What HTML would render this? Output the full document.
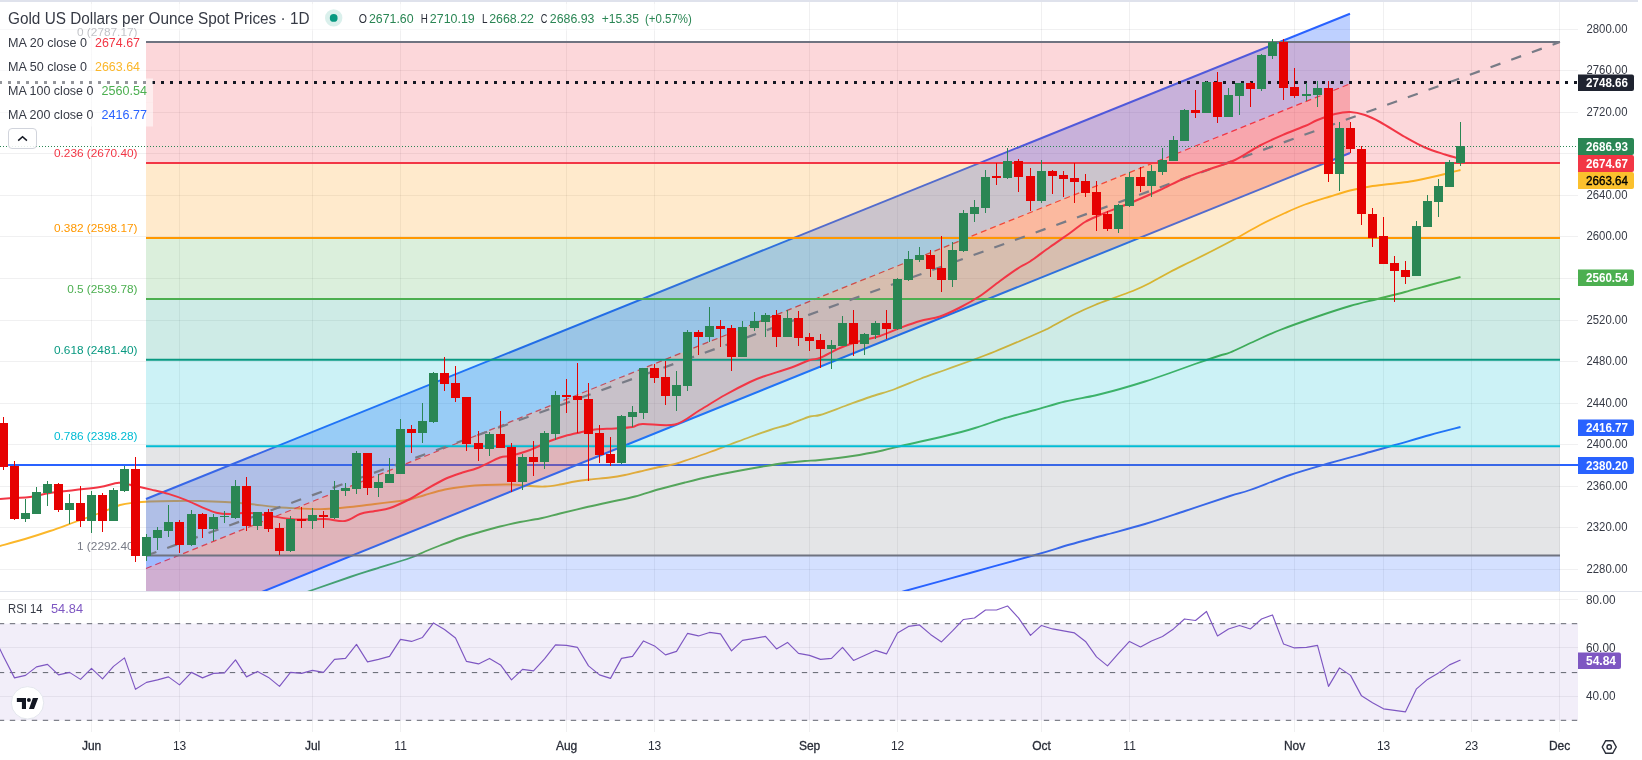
<!DOCTYPE html>
<html><head><meta charset="utf-8"><title>Gold Chart</title>
<style>html,body{margin:0;padding:0;background:#fff;}body{width:1642px;height:760px;overflow:hidden;position:relative;font-family:"Liberation Sans",sans-serif;}</style></head>
<body>
<svg width="1642" height="760" viewBox="0 0 1642 760" style="position:absolute;left:0;top:0;will-change:transform;opacity:0.999">
<defs>
<clipPath id="cm"><rect x="0" y="0" width="1578" height="591"/></clipPath>
<clipPath id="cr"><rect x="0" y="592" width="1578" height="140"/></clipPath>
</defs>
<rect width="1642" height="760" fill="#fff"/>
<rect x="0" y="0" width="1638" height="2" fill="#dfe2ec" shape-rendering="crispEdges"/>
<g fill="rgba(42,46,57,0.07)" shape-rendering="crispEdges"><rect x="0" y="29" width="1578" height="1"/><rect x="0" y="70" width="1578" height="1"/><rect x="0" y="112" width="1578" height="1"/><rect x="0" y="153" width="1578" height="1"/><rect x="0" y="195" width="1578" height="1"/><rect x="0" y="236" width="1578" height="1"/><rect x="0" y="278" width="1578" height="1"/><rect x="0" y="320" width="1578" height="1"/><rect x="0" y="361" width="1578" height="1"/><rect x="0" y="403" width="1578" height="1"/><rect x="0" y="444" width="1578" height="1"/><rect x="0" y="486" width="1578" height="1"/><rect x="0" y="527" width="1578" height="1"/><rect x="0" y="569" width="1578" height="1"/><rect x="0" y="599" width="1578" height="1"/><rect x="0" y="647" width="1578" height="1"/><rect x="0" y="696" width="1578" height="1"/><rect x="91" y="2" width="1" height="730"/><rect x="179" y="2" width="1" height="730"/><rect x="312" y="2" width="1" height="730"/><rect x="400" y="2" width="1" height="730"/><rect x="566" y="2" width="1" height="730"/><rect x="654" y="2" width="1" height="730"/><rect x="809" y="2" width="1" height="730"/><rect x="897" y="2" width="1" height="730"/><rect x="1041" y="2" width="1" height="730"/><rect x="1129" y="2" width="1" height="730"/><rect x="1294" y="2" width="1" height="730"/><rect x="1383" y="2" width="1" height="730"/><rect x="1471" y="2" width="1" height="730"/><rect x="1559" y="2" width="1" height="730"/></g>
<rect x="0" y="591" width="1642" height="1" fill="#e0e3eb" shape-rendering="crispEdges"/>
<g clip-path="url(#cm)">
<rect x="0" y="464" width="1578" height="2" fill="#2962ff"/>
<path d="M0.00,546.00 C4.17,544.83 16.67,541.50 25.00,539.00 C33.33,536.50 41.67,533.83 50.00,531.00 C58.33,528.17 66.67,525.00 75.00,522.00 C83.33,519.00 92.50,515.83 100.00,513.00 C107.50,510.17 114.17,506.75 120.00,505.00 C125.83,503.25 130.00,503.08 135.00,502.50 C140.00,501.92 143.33,501.75 150.00,501.50 C156.67,501.25 166.67,501.08 175.00,501.00 C183.33,500.92 191.67,500.83 200.00,501.00 C208.33,501.17 216.67,501.50 225.00,502.00 C233.33,502.50 241.67,503.17 250.00,504.00 C258.33,504.83 266.67,506.25 275.00,507.00 C283.33,507.75 291.67,508.17 300.00,508.50 C308.33,508.83 316.67,509.25 325.00,509.00 C333.33,508.75 341.67,507.83 350.00,507.00 C358.33,506.17 366.67,505.00 375.00,504.00 C383.33,503.00 394.17,501.75 400.00,501.00 C405.83,500.25 405.83,500.50 410.00,499.50 C414.17,498.50 419.17,496.67 425.00,495.00 C430.83,493.33 438.33,490.92 445.00,489.50 C451.67,488.08 458.33,487.25 465.00,486.50 C471.67,485.75 477.50,485.33 485.00,485.00 C492.50,484.67 502.50,484.33 510.00,484.50 C517.50,484.67 524.17,485.67 530.00,486.00 C535.83,486.33 540.00,486.75 545.00,486.50 C550.00,486.25 555.00,485.33 560.00,484.50 C565.00,483.67 570.00,482.33 575.00,481.50 C580.00,480.67 584.17,480.17 590.00,479.50 C595.83,478.83 604.17,478.25 610.00,477.50 C615.83,476.75 620.00,476.00 625.00,475.00 C630.00,474.00 635.00,472.67 640.00,471.50 C645.00,470.33 649.17,469.25 655.00,468.00 C660.83,466.75 669.17,465.50 675.00,464.00 C680.83,462.50 684.17,461.00 690.00,459.00 C695.83,457.00 703.33,454.42 710.00,452.00 C716.67,449.58 723.33,447.00 730.00,444.50 C736.67,442.00 743.33,439.42 750.00,437.00 C756.67,434.58 763.33,432.17 770.00,430.00 C776.67,427.83 783.33,426.25 790.00,424.00 C796.67,421.75 805.00,418.00 810.00,416.50 C815.00,415.00 814.17,416.75 820.00,415.00 C825.83,413.25 836.67,409.00 845.00,406.00 C853.33,403.00 861.67,399.83 870.00,397.00 C878.33,394.17 886.67,392.00 895.00,389.00 C903.33,386.00 911.67,382.17 920.00,379.00 C928.33,375.83 936.67,373.00 945.00,370.00 C953.33,367.00 961.67,364.08 970.00,361.00 C978.33,357.92 986.67,354.83 995.00,351.50 C1003.33,348.17 1011.67,344.58 1020.00,341.00 C1028.33,337.42 1040.00,332.25 1045.00,330.00 C1050.00,327.75 1045.00,330.17 1050.00,327.50 C1055.00,324.83 1067.50,317.75 1075.00,314.00 C1082.50,310.25 1088.33,307.75 1095.00,305.00 C1101.67,302.25 1108.33,300.00 1115.00,297.50 C1121.67,295.00 1129.17,292.42 1135.00,290.00 C1140.83,287.58 1144.17,286.00 1150.00,283.00 C1155.83,280.00 1163.33,275.50 1170.00,272.00 C1176.67,268.50 1183.33,265.33 1190.00,262.00 C1196.67,258.67 1202.50,255.83 1210.00,252.00 C1217.50,248.17 1226.67,243.50 1235.00,239.00 C1243.33,234.50 1251.67,229.33 1260.00,225.00 C1268.33,220.67 1277.50,216.42 1285.00,213.00 C1292.50,209.58 1297.50,207.25 1305.00,204.50 C1312.50,201.75 1322.50,198.83 1330.00,196.50 C1337.50,194.17 1343.33,192.17 1350.00,190.50 C1356.67,188.83 1363.33,187.58 1370.00,186.50 C1376.67,185.42 1383.33,184.83 1390.00,184.00 C1396.67,183.17 1403.33,182.58 1410.00,181.50 C1416.67,180.42 1424.17,178.75 1430.00,177.50 C1435.83,176.25 1439.92,175.25 1445.00,174.00 C1450.08,172.75 1457.92,170.67 1460.50,170.00" fill="none" stroke="#fbb72a" stroke-width="1.85" stroke-linejoin="round" stroke-linecap="butt"/>
<path d="M305.00,593.00 C306.25,592.50 305.00,592.67 312.50,590.00 C320.00,587.33 339.58,580.50 350.00,577.00 C360.42,573.50 365.00,572.17 375.00,569.00 C385.00,565.83 401.67,560.92 410.00,558.00 C418.33,555.08 420.00,553.58 425.00,551.50 C430.00,549.42 434.17,547.75 440.00,545.50 C445.83,543.25 453.33,540.25 460.00,538.00 C466.67,535.75 473.33,533.92 480.00,532.00 C486.67,530.08 493.33,528.17 500.00,526.50 C506.67,524.83 513.33,523.33 520.00,522.00 C526.67,520.67 533.33,519.92 540.00,518.50 C546.67,517.08 552.50,515.33 560.00,513.50 C567.50,511.67 576.67,509.42 585.00,507.50 C593.33,505.58 601.67,503.83 610.00,502.00 C618.33,500.17 626.67,498.67 635.00,496.50 C643.33,494.33 651.67,491.33 660.00,489.00 C668.33,486.67 676.67,484.58 685.00,482.50 C693.33,480.42 701.67,478.33 710.00,476.50 C718.33,474.67 726.67,473.08 735.00,471.50 C743.33,469.92 751.67,468.42 760.00,467.00 C768.33,465.58 777.50,464.00 785.00,463.00 C792.50,462.00 799.17,461.50 805.00,461.00 C810.83,460.50 812.08,460.83 820.00,460.00 C827.92,459.17 842.08,457.58 852.50,456.00 C862.92,454.42 873.75,452.33 882.50,450.50 C891.25,448.67 894.58,447.42 905.00,445.00 C915.42,442.58 933.33,438.83 945.00,436.00 C956.67,433.17 965.00,431.00 975.00,428.00 C985.00,425.00 995.00,421.00 1005.00,418.00 C1015.00,415.00 1025.00,412.75 1035.00,410.00 C1045.00,407.25 1055.00,403.92 1065.00,401.50 C1075.00,399.08 1085.83,397.58 1095.00,395.50 C1104.17,393.42 1111.67,391.33 1120.00,389.00 C1128.33,386.67 1136.67,384.17 1145.00,381.50 C1153.33,378.83 1161.67,375.92 1170.00,373.00 C1178.33,370.08 1186.67,366.92 1195.00,364.00 C1203.33,361.08 1214.17,357.42 1220.00,355.50 C1225.83,353.58 1224.17,354.92 1230.00,352.50 C1235.83,350.08 1246.67,344.75 1255.00,341.00 C1263.33,337.25 1269.58,334.08 1280.00,330.00 C1290.42,325.92 1305.83,320.50 1317.50,316.50 C1329.17,312.50 1340.00,308.92 1350.00,306.00 C1360.00,303.08 1368.33,301.33 1377.50,299.00 C1386.67,296.67 1396.25,294.33 1405.00,292.00 C1413.75,289.67 1420.75,287.50 1430.00,285.00 C1439.25,282.50 1455.42,278.33 1460.50,277.00" fill="none" stroke="#4caf50" stroke-width="1.85" stroke-linejoin="round" stroke-linecap="butt"/>
<path d="M898.00,593.00 C899.17,592.67 893.00,594.33 905.00,591.00 C917.00,587.67 948.33,579.00 970.00,573.00 C991.67,567.00 1018.33,559.75 1035.00,555.00 C1051.67,550.25 1058.33,547.83 1070.00,544.50 C1081.67,541.17 1092.50,538.42 1105.00,535.00 C1117.50,531.58 1131.67,528.00 1145.00,524.00 C1158.33,520.00 1170.83,515.67 1185.00,511.00 C1199.17,506.33 1219.17,499.50 1230.00,496.00 C1240.83,492.50 1240.00,493.50 1250.00,490.00 C1260.00,486.50 1276.67,479.50 1290.00,475.00 C1303.33,470.50 1316.67,466.83 1330.00,463.00 C1343.33,459.17 1359.17,455.00 1370.00,452.00 C1380.83,449.00 1385.00,447.83 1395.00,445.00 C1405.00,442.17 1419.08,438.00 1430.00,435.00 C1440.92,432.00 1455.42,428.33 1460.50,427.00" fill="none" stroke="#2962ff" stroke-width="1.85" stroke-linejoin="round" stroke-linecap="butt"/>
<polygon points="146,499 1350,13.7 1350,83.8 146,568.5" fill="rgba(41,98,255,0.3)"/>
<polygon points="146,568.5 1350,83.8 1350,153 146,638.7" fill="rgba(242,54,69,0.3)"/>
<line x1="146" y1="499" x2="1350" y2="13.7" stroke="#2962ff" stroke-width="2"/>
<line x1="146" y1="638.7" x2="1350" y2="153" stroke="#2962ff" stroke-width="2"/>
<line x1="146" y1="568.5" x2="1350" y2="83.8" stroke="#f23645" stroke-width="1.25" stroke-dasharray="6 4"/>
<rect x="146" y="42" width="1414" height="121" fill="rgba(242,54,69,0.2)"/>
<rect x="146" y="163" width="1414" height="75" fill="rgba(255,152,0,0.2)"/>
<rect x="146" y="238" width="1414" height="61" fill="rgba(76,175,80,0.2)"/>
<rect x="146" y="299" width="1414" height="60.75" fill="rgba(8,153,129,0.2)"/>
<rect x="146" y="359.75" width="1414" height="86.5" fill="rgba(0,188,212,0.2)"/>
<rect x="146" y="446.25" width="1414" height="109.25" fill="rgba(120,123,134,0.2)"/>
<rect x="146" y="555.5" width="1414" height="144.5" fill="rgba(41,98,255,0.2)"/>
<rect x="146" y="41" width="1414" height="2" fill="#6f7380"/>
<rect x="146" y="162" width="1414" height="2" fill="#f23645"/>
<rect x="146" y="237" width="1414" height="2" fill="#ff9800"/>
<rect x="146" y="298" width="1414" height="2" fill="#4caf50"/>
<rect x="146" y="358.75" width="1414" height="2" fill="#089981"/>
<rect x="146" y="445.25" width="1414" height="2" fill="#00bcd4"/>
<rect x="146" y="554.5" width="1414" height="2" fill="#6f7380"/>
<text x="137.5" y="36.0" text-anchor="end" font-family="Liberation Sans, sans-serif" font-size="11.83" fill="#787b86">0 (2787.17)</text>
<text x="137.5" y="157.0" text-anchor="end" font-family="Liberation Sans, sans-serif" font-size="11.83" fill="#f23645">0.236 (2670.40)</text>
<text x="137.5" y="232.0" text-anchor="end" font-family="Liberation Sans, sans-serif" font-size="11.83" fill="#ff9800">0.382 (2598.17)</text>
<text x="137.5" y="293.0" text-anchor="end" font-family="Liberation Sans, sans-serif" font-size="11.83" fill="#4caf50">0.5 (2539.78)</text>
<text x="137.5" y="353.7" text-anchor="end" font-family="Liberation Sans, sans-serif" font-size="11.83" fill="#089981">0.618 (2481.40)</text>
<text x="137.5" y="440.0" text-anchor="end" font-family="Liberation Sans, sans-serif" font-size="11.83" fill="#00bcd4">0.786 (2398.28)</text>
<text x="137.5" y="550.0" text-anchor="end" font-family="Liberation Sans, sans-serif" font-size="11.83" fill="#787b86">1 (2292.40)</text>
<line x1="146.5" y1="555.5" x2="1560" y2="42" stroke="#787b86" stroke-width="2.2" stroke-dasharray="10.5 11.5"/>
<path d="M0.00,499.00 C2.50,498.83 10.00,498.33 15.00,498.00 C20.00,497.67 24.17,497.83 30.00,497.00 C35.83,496.17 42.50,494.17 50.00,493.00 C57.50,491.83 66.67,491.00 75.00,490.00 C83.33,489.00 92.70,488.20 100.00,487.00 C107.30,485.80 113.80,483.17 118.80,482.80 C123.80,482.43 124.58,483.67 130.00,484.80 C135.42,485.93 144.90,488.08 151.30,489.60 C157.70,491.12 162.70,492.18 168.40,493.90 C174.10,495.62 179.78,497.62 185.50,499.90 C191.22,502.18 197.57,505.47 202.70,507.60 C207.83,509.73 211.75,511.65 216.30,512.70 C220.85,513.75 225.15,513.90 230.00,513.90 C234.85,513.90 241.40,512.82 245.40,512.70 C249.40,512.58 249.73,512.63 254.00,513.20 C258.27,513.77 265.30,515.18 271.00,516.10 C276.70,517.02 283.37,518.12 288.20,518.70 C293.03,519.28 293.87,519.55 300.00,519.60 C306.13,519.65 317.50,518.77 325.00,519.00 C332.50,519.23 339.17,521.83 345.00,521.00 C350.83,520.17 355.00,515.67 360.00,514.00 C365.00,512.33 370.00,512.00 375.00,511.00 C380.00,510.00 384.17,510.00 390.00,508.00 C395.83,506.00 404.17,502.00 410.00,499.00 C415.83,496.00 419.17,493.33 425.00,490.00 C430.83,486.67 438.75,481.92 445.00,479.00 C451.25,476.08 457.08,474.33 462.50,472.50 C467.92,470.67 471.25,470.50 477.50,468.00 C483.75,465.50 494.58,459.50 500.00,457.50 C505.42,455.50 505.00,457.25 510.00,456.00 C515.00,454.75 523.33,452.50 530.00,450.00 C536.67,447.50 544.17,443.33 550.00,441.00 C555.83,438.67 560.00,437.42 565.00,436.00 C570.00,434.58 575.00,433.58 580.00,432.50 C585.00,431.42 589.17,430.17 595.00,429.50 C600.83,428.83 608.75,428.92 615.00,428.50 C621.25,428.08 627.92,427.75 632.50,427.00 C637.08,426.25 635.42,424.42 642.50,424.00 C649.58,423.58 665.42,426.83 675.00,424.50 C684.58,422.17 691.67,414.92 700.00,410.00 C708.33,405.08 716.67,399.67 725.00,395.00 C733.33,390.33 743.33,385.17 750.00,382.00 C756.67,378.83 758.33,378.33 765.00,376.00 C771.67,373.67 782.50,370.67 790.00,368.00 C797.50,365.33 805.00,361.67 810.00,360.00 C815.00,358.33 815.00,360.00 820.00,358.00 C825.00,356.00 833.33,350.83 840.00,348.00 C846.67,345.17 853.33,343.00 860.00,341.00 C866.67,339.00 873.33,338.17 880.00,336.00 C886.67,333.83 893.33,330.50 900.00,328.00 C906.67,325.50 913.33,322.92 920.00,321.00 C926.67,319.08 933.33,318.75 940.00,316.50 C946.67,314.25 953.33,310.92 960.00,307.50 C966.67,304.08 973.33,300.42 980.00,296.00 C986.67,291.58 993.33,285.83 1000.00,281.00 C1006.67,276.17 1015.00,270.25 1020.00,267.00 C1025.00,263.75 1025.00,264.83 1030.00,261.50 C1035.00,258.17 1043.33,251.75 1050.00,247.00 C1056.67,242.25 1064.17,237.17 1070.00,233.00 C1075.83,228.83 1080.00,225.00 1085.00,222.00 C1090.00,219.00 1094.17,217.50 1100.00,215.00 C1105.83,212.50 1114.17,209.33 1120.00,207.00 C1125.83,204.67 1128.33,203.83 1135.00,201.00 C1141.67,198.17 1151.67,193.83 1160.00,190.00 C1168.33,186.17 1176.67,181.50 1185.00,178.00 C1193.33,174.50 1201.67,172.00 1210.00,169.00 C1218.33,166.00 1226.67,163.92 1235.00,160.00 C1243.33,156.08 1251.67,149.83 1260.00,145.50 C1268.33,141.17 1277.50,137.25 1285.00,134.00 C1292.50,130.75 1299.58,128.33 1305.00,126.00 C1310.42,123.67 1312.50,122.00 1317.50,120.00 C1322.50,118.00 1329.58,115.33 1335.00,114.00 C1340.42,112.67 1345.00,111.83 1350.00,112.00 C1355.00,112.17 1360.00,113.33 1365.00,115.00 C1370.00,116.67 1373.33,118.33 1380.00,122.00 C1386.67,125.67 1397.50,132.75 1405.00,137.00 C1412.50,141.25 1418.33,144.58 1425.00,147.50 C1431.67,150.42 1439.08,152.58 1445.00,154.50 C1450.92,156.42 1457.92,158.25 1460.50,159.00" fill="none" stroke="#f23645" stroke-width="2" stroke-linejoin="round" stroke-linecap="butt"/>
<line x1="0" y1="146.5" x2="1578" y2="146.5" stroke="#2a8654" stroke-width="1" stroke-dasharray="1 2" shape-rendering="crispEdges"/>
<line x1="-1" y1="82.5" x2="1578" y2="82.5" stroke="#131722" stroke-width="3" stroke-dasharray="3 6" shape-rendering="crispEdges"/>
<g shape-rendering="crispEdges"><rect x="3" y="417" width="1" height="53" fill="#e60000"/><rect x="-1" y="423" width="9" height="44" fill="#e60000"/><rect x="14" y="461" width="1" height="59" fill="#e60000"/><rect x="10" y="466" width="9" height="53" fill="#e60000"/><rect x="25" y="499" width="1" height="23" fill="#2a8654"/><rect x="21" y="513" width="9" height="6" fill="#2a8654"/><rect x="36" y="487" width="1" height="27" fill="#2a8654"/><rect x="32" y="492" width="9" height="22" fill="#2a8654"/><rect x="47" y="481" width="1" height="25" fill="#2a8654"/><rect x="43" y="484" width="9" height="9" fill="#2a8654"/><rect x="58" y="483" width="1" height="29" fill="#e60000"/><rect x="54" y="484" width="9" height="26" fill="#e60000"/><rect x="69" y="494" width="1" height="30" fill="#2a8654"/><rect x="65" y="503" width="9" height="7" fill="#2a8654"/><rect x="80" y="486" width="1" height="41" fill="#e60000"/><rect x="76" y="503" width="9" height="18" fill="#e60000"/><rect x="91" y="491" width="1" height="42" fill="#2a8654"/><rect x="87" y="495" width="9" height="26" fill="#2a8654"/><rect x="102" y="493" width="1" height="39" fill="#e60000"/><rect x="98" y="495" width="9" height="26" fill="#e60000"/><rect x="113" y="488" width="1" height="33" fill="#2a8654"/><rect x="109" y="490" width="9" height="31" fill="#2a8654"/><rect x="124" y="466" width="1" height="26" fill="#2a8654"/><rect x="120" y="469" width="9" height="22" fill="#2a8654"/><rect x="135" y="457" width="1" height="105" fill="#e60000"/><rect x="131" y="469" width="9" height="87" fill="#e60000"/><rect x="146" y="534" width="1" height="27" fill="#2a8654"/><rect x="142" y="537" width="9" height="19" fill="#2a8654"/><rect x="157" y="527" width="1" height="23" fill="#2a8654"/><rect x="153" y="530" width="9" height="8" fill="#2a8654"/><rect x="168" y="505" width="1" height="32" fill="#2a8654"/><rect x="164" y="522" width="9" height="9" fill="#2a8654"/><rect x="179" y="520" width="1" height="33" fill="#e60000"/><rect x="175" y="522" width="9" height="23" fill="#e60000"/><rect x="191" y="510" width="1" height="36" fill="#2a8654"/><rect x="187" y="514" width="9" height="31" fill="#2a8654"/><rect x="202" y="513" width="1" height="25" fill="#e60000"/><rect x="198" y="514" width="9" height="15" fill="#e60000"/><rect x="213" y="514" width="1" height="27" fill="#2a8654"/><rect x="209" y="517" width="9" height="12" fill="#2a8654"/><rect x="224" y="511" width="1" height="12" fill="#2a8654"/><rect x="220" y="516" width="9" height="1" fill="#2a8654"/><rect x="235" y="480" width="1" height="39" fill="#2a8654"/><rect x="231" y="486" width="9" height="32" fill="#2a8654"/><rect x="246" y="477" width="1" height="54" fill="#e60000"/><rect x="242" y="486" width="9" height="40" fill="#e60000"/><rect x="257" y="512" width="1" height="18" fill="#2a8654"/><rect x="253" y="512" width="9" height="14" fill="#2a8654"/><rect x="268" y="509" width="1" height="23" fill="#e60000"/><rect x="264" y="512" width="9" height="17" fill="#e60000"/><rect x="279" y="523" width="1" height="32" fill="#e60000"/><rect x="275" y="528" width="9" height="23" fill="#e60000"/><rect x="290" y="516" width="1" height="36" fill="#2a8654"/><rect x="286" y="519" width="9" height="32" fill="#2a8654"/><rect x="301" y="507" width="1" height="21" fill="#e60000"/><rect x="297" y="519" width="9" height="2" fill="#e60000"/><rect x="312" y="508" width="1" height="21" fill="#2a8654"/><rect x="308" y="515" width="9" height="6" fill="#2a8654"/><rect x="323" y="511" width="1" height="17" fill="#e60000"/><rect x="319" y="515" width="9" height="2" fill="#e60000"/><rect x="334" y="481" width="1" height="38" fill="#2a8654"/><rect x="330" y="490" width="9" height="28" fill="#2a8654"/><rect x="345" y="483" width="1" height="13" fill="#2a8654"/><rect x="341" y="488" width="9" height="3" fill="#2a8654"/><rect x="356" y="451" width="1" height="43" fill="#2a8654"/><rect x="352" y="453" width="9" height="36" fill="#2a8654"/><rect x="367" y="453" width="1" height="42" fill="#e60000"/><rect x="363" y="453" width="9" height="35" fill="#e60000"/><rect x="378" y="474" width="1" height="23" fill="#2a8654"/><rect x="374" y="482" width="9" height="6" fill="#2a8654"/><rect x="389" y="458" width="1" height="25" fill="#2a8654"/><rect x="385" y="474" width="9" height="9" fill="#2a8654"/><rect x="400" y="419" width="1" height="55" fill="#2a8654"/><rect x="396" y="429" width="9" height="45" fill="#2a8654"/><rect x="411" y="425" width="1" height="28" fill="#e60000"/><rect x="407" y="429" width="9" height="4" fill="#e60000"/><rect x="422" y="403" width="1" height="40" fill="#2a8654"/><rect x="418" y="421" width="9" height="12" fill="#2a8654"/><rect x="433" y="372" width="1" height="51" fill="#2a8654"/><rect x="429" y="373" width="9" height="49" fill="#2a8654"/><rect x="444" y="357" width="1" height="34" fill="#e60000"/><rect x="440" y="373" width="9" height="11" fill="#e60000"/><rect x="455" y="366" width="1" height="36" fill="#e60000"/><rect x="451" y="383" width="9" height="15" fill="#e60000"/><rect x="466" y="397" width="1" height="54" fill="#e60000"/><rect x="462" y="397" width="9" height="47" fill="#e60000"/><rect x="478" y="431" width="1" height="30" fill="#e60000"/><rect x="474" y="443" width="9" height="6" fill="#e60000"/><rect x="489" y="432" width="1" height="24" fill="#2a8654"/><rect x="485" y="434" width="9" height="15" fill="#2a8654"/><rect x="500" y="411" width="1" height="37" fill="#e60000"/><rect x="496" y="434" width="9" height="14" fill="#e60000"/><rect x="511" y="443" width="1" height="49" fill="#e60000"/><rect x="507" y="447" width="9" height="35" fill="#e60000"/><rect x="522" y="454" width="1" height="36" fill="#2a8654"/><rect x="518" y="457" width="9" height="25" fill="#2a8654"/><rect x="533" y="441" width="1" height="35" fill="#e60000"/><rect x="529" y="457" width="9" height="5" fill="#e60000"/><rect x="544" y="431" width="1" height="38" fill="#2a8654"/><rect x="540" y="433" width="9" height="29" fill="#2a8654"/><rect x="555" y="391" width="1" height="49" fill="#2a8654"/><rect x="551" y="395" width="9" height="39" fill="#2a8654"/><rect x="566" y="379" width="1" height="34" fill="#e60000"/><rect x="562" y="395" width="9" height="2" fill="#e60000"/><rect x="577" y="363" width="1" height="70" fill="#e60000"/><rect x="573" y="396" width="9" height="4" fill="#e60000"/><rect x="588" y="383" width="1" height="98" fill="#e60000"/><rect x="584" y="399" width="9" height="35" fill="#e60000"/><rect x="599" y="425" width="1" height="38" fill="#e60000"/><rect x="595" y="433" width="9" height="22" fill="#e60000"/><rect x="610" y="437" width="1" height="29" fill="#e60000"/><rect x="606" y="454" width="9" height="9" fill="#e60000"/><rect x="621" y="415" width="1" height="49" fill="#2a8654"/><rect x="617" y="416" width="9" height="47" fill="#2a8654"/><rect x="632" y="406" width="1" height="21" fill="#2a8654"/><rect x="628" y="412" width="9" height="5" fill="#2a8654"/><rect x="643" y="368" width="1" height="51" fill="#2a8654"/><rect x="639" y="368" width="9" height="45" fill="#2a8654"/><rect x="654" y="364" width="1" height="19" fill="#e60000"/><rect x="650" y="368" width="9" height="10" fill="#e60000"/><rect x="665" y="361" width="1" height="44" fill="#e60000"/><rect x="661" y="377" width="9" height="19" fill="#e60000"/><rect x="676" y="371" width="1" height="40" fill="#2a8654"/><rect x="672" y="385" width="9" height="11" fill="#2a8654"/><rect x="687" y="330" width="1" height="61" fill="#2a8654"/><rect x="683" y="332" width="9" height="54" fill="#2a8654"/><rect x="698" y="330" width="1" height="25" fill="#e60000"/><rect x="694" y="332" width="9" height="5" fill="#e60000"/><rect x="709" y="307" width="1" height="35" fill="#2a8654"/><rect x="705" y="326" width="9" height="11" fill="#2a8654"/><rect x="720" y="320" width="1" height="27" fill="#e60000"/><rect x="716" y="326" width="9" height="3" fill="#e60000"/><rect x="731" y="325" width="1" height="46" fill="#e60000"/><rect x="727" y="328" width="9" height="29" fill="#e60000"/><rect x="742" y="321" width="1" height="36" fill="#2a8654"/><rect x="738" y="327" width="9" height="30" fill="#2a8654"/><rect x="754" y="312" width="1" height="19" fill="#2a8654"/><rect x="750" y="321" width="9" height="7" fill="#2a8654"/><rect x="765" y="313" width="1" height="24" fill="#2a8654"/><rect x="761" y="315" width="9" height="7" fill="#2a8654"/><rect x="776" y="310" width="1" height="37" fill="#e60000"/><rect x="772" y="315" width="9" height="22" fill="#e60000"/><rect x="787" y="310" width="1" height="27" fill="#2a8654"/><rect x="783" y="318" width="9" height="19" fill="#2a8654"/><rect x="798" y="311" width="1" height="35" fill="#e60000"/><rect x="794" y="318" width="9" height="20" fill="#e60000"/><rect x="809" y="333" width="1" height="18" fill="#e60000"/><rect x="805" y="337" width="9" height="4" fill="#e60000"/><rect x="820" y="334" width="1" height="34" fill="#e60000"/><rect x="816" y="340" width="9" height="9" fill="#e60000"/><rect x="831" y="340" width="1" height="29" fill="#2a8654"/><rect x="827" y="345" width="9" height="4" fill="#2a8654"/><rect x="842" y="316" width="1" height="30" fill="#2a8654"/><rect x="838" y="323" width="9" height="23" fill="#2a8654"/><rect x="853" y="310" width="1" height="46" fill="#e60000"/><rect x="849" y="323" width="9" height="21" fill="#e60000"/><rect x="864" y="333" width="1" height="22" fill="#2a8654"/><rect x="860" y="334" width="9" height="10" fill="#2a8654"/><rect x="875" y="321" width="1" height="18" fill="#2a8654"/><rect x="871" y="323" width="9" height="12" fill="#2a8654"/><rect x="886" y="310" width="1" height="29" fill="#e60000"/><rect x="882" y="323" width="9" height="6" fill="#e60000"/><rect x="897" y="278" width="1" height="52" fill="#2a8654"/><rect x="893" y="279" width="9" height="50" fill="#2a8654"/><rect x="908" y="251" width="1" height="30" fill="#2a8654"/><rect x="904" y="259" width="9" height="21" fill="#2a8654"/><rect x="919" y="247" width="1" height="15" fill="#2a8654"/><rect x="915" y="255" width="9" height="5" fill="#2a8654"/><rect x="930" y="250" width="1" height="27" fill="#e60000"/><rect x="926" y="255" width="9" height="14" fill="#e60000"/><rect x="941" y="236" width="1" height="56" fill="#e60000"/><rect x="937" y="268" width="9" height="12" fill="#e60000"/><rect x="952" y="242" width="1" height="45" fill="#2a8654"/><rect x="948" y="250" width="9" height="30" fill="#2a8654"/><rect x="963" y="210" width="1" height="42" fill="#2a8654"/><rect x="959" y="213" width="9" height="38" fill="#2a8654"/><rect x="974" y="200" width="1" height="22" fill="#2a8654"/><rect x="970" y="207" width="9" height="7" fill="#2a8654"/><rect x="985" y="170" width="1" height="43" fill="#2a8654"/><rect x="981" y="177" width="9" height="31" fill="#2a8654"/><rect x="996" y="163" width="1" height="22" fill="#e60000"/><rect x="992" y="176" width="9" height="2" fill="#e60000"/><rect x="1007" y="148" width="1" height="31" fill="#2a8654"/><rect x="1003" y="161" width="9" height="17" fill="#2a8654"/><rect x="1018" y="159" width="1" height="33" fill="#e60000"/><rect x="1014" y="161" width="9" height="16" fill="#e60000"/><rect x="1030" y="168" width="1" height="43" fill="#e60000"/><rect x="1026" y="176" width="9" height="25" fill="#e60000"/><rect x="1041" y="160" width="1" height="43" fill="#2a8654"/><rect x="1037" y="171" width="9" height="30" fill="#2a8654"/><rect x="1052" y="170" width="1" height="24" fill="#e60000"/><rect x="1048" y="171" width="9" height="5" fill="#e60000"/><rect x="1063" y="171" width="1" height="26" fill="#e60000"/><rect x="1059" y="175" width="9" height="4" fill="#e60000"/><rect x="1074" y="163" width="1" height="40" fill="#e60000"/><rect x="1070" y="178" width="9" height="4" fill="#e60000"/><rect x="1085" y="174" width="1" height="23" fill="#e60000"/><rect x="1081" y="181" width="9" height="12" fill="#e60000"/><rect x="1096" y="181" width="1" height="50" fill="#e60000"/><rect x="1092" y="192" width="9" height="23" fill="#e60000"/><rect x="1107" y="211" width="1" height="20" fill="#e60000"/><rect x="1103" y="214" width="9" height="15" fill="#e60000"/><rect x="1118" y="204" width="1" height="29" fill="#2a8654"/><rect x="1114" y="205" width="9" height="24" fill="#2a8654"/><rect x="1129" y="172" width="1" height="35" fill="#2a8654"/><rect x="1125" y="177" width="9" height="29" fill="#2a8654"/><rect x="1140" y="167" width="1" height="25" fill="#e60000"/><rect x="1136" y="177" width="9" height="9" fill="#e60000"/><rect x="1151" y="165" width="1" height="32" fill="#2a8654"/><rect x="1147" y="171" width="9" height="15" fill="#2a8654"/><rect x="1162" y="148" width="1" height="27" fill="#2a8654"/><rect x="1158" y="160" width="9" height="12" fill="#2a8654"/><rect x="1173" y="136" width="1" height="25" fill="#2a8654"/><rect x="1169" y="140" width="9" height="21" fill="#2a8654"/><rect x="1184" y="109" width="1" height="32" fill="#2a8654"/><rect x="1180" y="110" width="9" height="31" fill="#2a8654"/><rect x="1195" y="90" width="1" height="28" fill="#e60000"/><rect x="1191" y="110" width="9" height="3" fill="#e60000"/><rect x="1206" y="81" width="1" height="32" fill="#2a8654"/><rect x="1202" y="82" width="9" height="31" fill="#2a8654"/><rect x="1217" y="72" width="1" height="51" fill="#e60000"/><rect x="1213" y="82" width="9" height="35" fill="#e60000"/><rect x="1228" y="88" width="1" height="29" fill="#2a8654"/><rect x="1224" y="95" width="9" height="22" fill="#2a8654"/><rect x="1239" y="83" width="1" height="32" fill="#2a8654"/><rect x="1235" y="83" width="9" height="13" fill="#2a8654"/><rect x="1250" y="82" width="1" height="25" fill="#e60000"/><rect x="1246" y="83" width="9" height="6" fill="#e60000"/><rect x="1261" y="54" width="1" height="37" fill="#2a8654"/><rect x="1257" y="55" width="9" height="34" fill="#2a8654"/><rect x="1272" y="39" width="1" height="20" fill="#2a8654"/><rect x="1268" y="42" width="9" height="14" fill="#2a8654"/><rect x="1283" y="39" width="1" height="61" fill="#e60000"/><rect x="1279" y="42" width="9" height="46" fill="#e60000"/><rect x="1294" y="68" width="1" height="30" fill="#e60000"/><rect x="1290" y="87" width="9" height="9" fill="#e60000"/><rect x="1306" y="83" width="1" height="18" fill="#2a8654"/><rect x="1302" y="94" width="9" height="2" fill="#2a8654"/><rect x="1317" y="81" width="1" height="26" fill="#2a8654"/><rect x="1313" y="88" width="9" height="7" fill="#2a8654"/><rect x="1328" y="81" width="1" height="101" fill="#e60000"/><rect x="1324" y="88" width="9" height="86" fill="#e60000"/><rect x="1339" y="122" width="1" height="69" fill="#2a8654"/><rect x="1335" y="128" width="9" height="46" fill="#2a8654"/><rect x="1350" y="122" width="1" height="31" fill="#e60000"/><rect x="1346" y="128" width="9" height="21" fill="#e60000"/><rect x="1361" y="146" width="1" height="79" fill="#e60000"/><rect x="1357" y="149" width="9" height="65" fill="#e60000"/><rect x="1372" y="208" width="1" height="39" fill="#e60000"/><rect x="1368" y="214" width="9" height="24" fill="#e60000"/><rect x="1383" y="217" width="1" height="47" fill="#e60000"/><rect x="1379" y="236" width="9" height="28" fill="#e60000"/><rect x="1394" y="256" width="1" height="46" fill="#e60000"/><rect x="1390" y="263" width="9" height="8" fill="#e60000"/><rect x="1405" y="261" width="1" height="23" fill="#e60000"/><rect x="1401" y="270" width="9" height="7" fill="#e60000"/><rect x="1416" y="221" width="1" height="55" fill="#2a8654"/><rect x="1412" y="226" width="9" height="50" fill="#2a8654"/><rect x="1427" y="195" width="1" height="32" fill="#2a8654"/><rect x="1423" y="201" width="9" height="26" fill="#2a8654"/><rect x="1438" y="179" width="1" height="38" fill="#2a8654"/><rect x="1434" y="186" width="9" height="16" fill="#2a8654"/><rect x="1449" y="160" width="1" height="27" fill="#2a8654"/><rect x="1445" y="162" width="9" height="25" fill="#2a8654"/><rect x="1460" y="122" width="1" height="44" fill="#2a8654"/><rect x="1456" y="146" width="9" height="17" fill="#2a8654"/></g>
</g>
<g clip-path="url(#cr)">
<rect x="0" y="623.7" width="1578" height="96.59999999999991" fill="rgba(126,87,194,0.1)"/>
<line x1="0" y1="623.7" x2="1578" y2="623.7" stroke="#62656f" stroke-width="1.0" stroke-dasharray="5.4 5.6" stroke-dashoffset="1.2"/>
<line x1="0" y1="672.6" x2="1578" y2="672.6" stroke="#62656f" stroke-width="1.0" stroke-dasharray="5.4 5.6" stroke-dashoffset="1.2"/>
<line x1="0" y1="720.3" x2="1578" y2="720.3" stroke="#62656f" stroke-width="1.0" stroke-dasharray="5.4 5.6" stroke-dashoffset="1.2"/>
<polyline points="-7.54,633.93 3.50,656.40 14.50,677.88 25.50,675.38 36.50,666.89 47.50,664.39 58.50,674.88 69.50,672.38 80.50,679.38 91.50,668.39 102.50,678.88 113.50,666.39 124.50,657.90 135.50,689.36 146.50,682.37 157.50,679.88 168.50,676.88 179.50,684.87 191.50,672.38 202.50,677.88 213.50,673.38 224.50,672.88 235.50,659.90 246.50,676.88 257.50,671.39 268.50,677.38 279.50,686.37 290.50,672.38 301.50,673.38 312.50,670.39 323.50,672.38 334.50,659.40 345.50,658.40 356.50,644.42 367.50,661.90 378.50,659.40 389.50,656.40 400.50,639.43 411.50,641.42 422.50,637.43 433.50,622.95 444.50,629.44 455.50,637.93 466.50,661.40 478.50,663.90 489.50,658.40 500.50,664.89 511.50,679.88 522.50,669.39 533.50,670.89 544.50,658.90 555.50,644.92 566.50,645.42 577.50,647.42 588.50,665.89 599.50,674.88 610.50,678.38 621.50,658.40 632.50,656.40 643.50,640.92 654.50,645.92 665.50,654.91 676.50,651.41 687.50,633.43 698.50,635.93 709.50,632.43 720.50,633.93 731.50,650.91 742.50,640.42 754.50,638.43 765.50,636.43 776.50,648.91 787.50,642.42 798.50,653.41 809.50,655.41 820.50,659.40 831.50,658.40 842.50,647.42 853.50,660.40 864.50,655.41 875.50,650.41 886.50,653.91 897.50,632.93 908.50,626.44 919.50,624.94 930.50,634.43 941.50,641.92 952.50,630.94 963.50,619.45 974.50,617.95 985.50,609.96 996.50,609.96 1007.50,605.97 1018.50,617.95 1030.50,635.43 1041.50,625.44 1052.50,628.94 1063.50,630.94 1074.50,632.93 1085.50,641.42 1096.50,656.90 1107.50,665.89 1118.50,653.41 1129.50,641.42 1140.50,646.92 1151.50,640.92 1162.50,636.43 1173.50,628.94 1184.50,618.95 1195.50,620.45 1206.50,611.46 1217.50,635.93 1228.50,628.94 1239.50,625.44 1250.50,628.94 1261.50,618.95 1272.50,614.96 1283.50,643.92 1294.50,647.92 1306.50,647.42 1317.50,645.42 1328.50,686.37 1339.50,667.89 1350.50,675.38 1361.50,695.86 1372.50,702.85 1383.50,708.84 1394.50,710.34 1405.50,711.84 1416.50,688.86 1427.50,679.38 1438.50,672.88 1449.50,664.89 1460.50,659.90" fill="none" stroke="#7e57c2" stroke-width="1.15" stroke-linejoin="round"/>
</g>
<rect x="0" y="4" width="700" height="26.5" fill="rgba(255,255,255,0.55)"/>
<rect x="0" y="30.5" width="146" height="24" fill="rgba(255,255,255,0.55)"/>
<rect x="0" y="54.5" width="146" height="24" fill="rgba(255,255,255,0.55)"/>
<rect x="0" y="78.5" width="153" height="24" fill="rgba(255,255,255,0.55)"/>
<rect x="0" y="102.5" width="153" height="24" fill="rgba(255,255,255,0.55)"/>
<text x="8" y="24" font-family="Liberation Sans, sans-serif" font-size="16" fill="#363a45" textLength="301.5" lengthAdjust="spacingAndGlyphs">Gold US Dollars per Ounce Spot Prices · 1D</text>
<circle cx="333.7" cy="17.9" r="8.7" fill="rgba(8,153,129,0.15)"/><circle cx="333.7" cy="17.9" r="3.9" fill="#089981"/>
<text x="358.8" y="23" font-family="Liberation Sans, sans-serif" font-size="12" fill="#2a2e39" textLength="8.2" lengthAdjust="spacingAndGlyphs">O</text>
<text x="368.9" y="23" font-family="Liberation Sans, sans-serif" font-size="12" fill="#2a8654" textLength="44.7" lengthAdjust="spacingAndGlyphs">2671.60</text>
<text x="420.7" y="23" font-family="Liberation Sans, sans-serif" font-size="12" fill="#2a2e39" textLength="7.1" lengthAdjust="spacingAndGlyphs">H</text>
<text x="429.8" y="23" font-family="Liberation Sans, sans-serif" font-size="12" fill="#2a8654" textLength="45.0" lengthAdjust="spacingAndGlyphs">2710.19</text>
<text x="482.1" y="23" font-family="Liberation Sans, sans-serif" font-size="12" fill="#2a2e39" textLength="5.5" lengthAdjust="spacingAndGlyphs">L</text>
<text x="489.2" y="23" font-family="Liberation Sans, sans-serif" font-size="12" fill="#2a8654" textLength="44.8" lengthAdjust="spacingAndGlyphs">2668.22</text>
<text x="540.8" y="23" font-family="Liberation Sans, sans-serif" font-size="12" fill="#2a2e39" textLength="6.6" lengthAdjust="spacingAndGlyphs">C</text>
<text x="549.8" y="23" font-family="Liberation Sans, sans-serif" font-size="12" fill="#2a8654" textLength="44.7" lengthAdjust="spacingAndGlyphs">2686.93</text>
<text x="601.7" y="23" font-family="Liberation Sans, sans-serif" font-size="12" fill="#2a8654" textLength="37.2" lengthAdjust="spacingAndGlyphs">+15.35</text>
<text x="645.0" y="23" font-family="Liberation Sans, sans-serif" font-size="12" fill="#2a8654" textLength="46.9" lengthAdjust="spacingAndGlyphs">(+0.57%)</text>
<text x="8" y="47" font-family="Liberation Sans, sans-serif" font-size="12" fill="#363a45" textLength="79" lengthAdjust="spacingAndGlyphs">MA 20 close 0</text>
<text x="95" y="47" font-family="Liberation Sans, sans-serif" font-size="12" fill="#f23645" textLength="45" lengthAdjust="spacingAndGlyphs">2674.67</text>
<text x="8" y="71" font-family="Liberation Sans, sans-serif" font-size="12" fill="#363a45" textLength="79" lengthAdjust="spacingAndGlyphs">MA 50 close 0</text>
<text x="95" y="71" font-family="Liberation Sans, sans-serif" font-size="12" fill="#fbb72a" textLength="45" lengthAdjust="spacingAndGlyphs">2663.64</text>
<text x="8" y="95" font-family="Liberation Sans, sans-serif" font-size="12" fill="#363a45" textLength="85.5" lengthAdjust="spacingAndGlyphs">MA 100 close 0</text>
<text x="101.5" y="95" font-family="Liberation Sans, sans-serif" font-size="12" fill="#4caf50" textLength="45.5" lengthAdjust="spacingAndGlyphs">2560.54</text>
<text x="8" y="119" font-family="Liberation Sans, sans-serif" font-size="12" fill="#363a45" textLength="85.5" lengthAdjust="spacingAndGlyphs">MA 200 close 0</text>
<text x="101.5" y="119" font-family="Liberation Sans, sans-serif" font-size="12" fill="#2962ff" textLength="45.5" lengthAdjust="spacingAndGlyphs">2416.77</text>
<rect x="8.5" y="128.5" width="28" height="20" rx="3.5" fill="rgba(255,255,255,0.88)" stroke="#d1d4dc" stroke-width="1"/>
<polyline points="18.2,140.6 22.55,136.8 26.9,140.6" fill="none" stroke="#131722" stroke-width="1.5"/>
<text x="8" y="613" font-family="Liberation Sans, sans-serif" font-size="12" fill="#363a45" textLength="34.5" lengthAdjust="spacingAndGlyphs">RSI 14</text>
<text x="51" y="613" font-family="Liberation Sans, sans-serif" font-size="12" fill="#7e57c2" textLength="32" lengthAdjust="spacingAndGlyphs">54.84</text>
<rect x="1578" y="2" width="64" height="589" fill="#fff"/>
<rect x="1578" y="592" width="64" height="168" fill="#fff"/>
<text x="1586.5" y="33.0" font-family="Liberation Sans, sans-serif" font-size="12" fill="#363a45" textLength="41" lengthAdjust="spacingAndGlyphs">2800.00</text>
<text x="1586.5" y="74.0" font-family="Liberation Sans, sans-serif" font-size="12" fill="#363a45" textLength="41" lengthAdjust="spacingAndGlyphs">2760.00</text>
<text x="1586.5" y="116.0" font-family="Liberation Sans, sans-serif" font-size="12" fill="#363a45" textLength="41" lengthAdjust="spacingAndGlyphs">2720.00</text>
<text x="1586.5" y="157.0" font-family="Liberation Sans, sans-serif" font-size="12" fill="#363a45" textLength="41" lengthAdjust="spacingAndGlyphs">2680.00</text>
<text x="1586.5" y="199.0" font-family="Liberation Sans, sans-serif" font-size="12" fill="#363a45" textLength="41" lengthAdjust="spacingAndGlyphs">2640.00</text>
<text x="1586.5" y="240.0" font-family="Liberation Sans, sans-serif" font-size="12" fill="#363a45" textLength="41" lengthAdjust="spacingAndGlyphs">2600.00</text>
<text x="1586.5" y="282.0" font-family="Liberation Sans, sans-serif" font-size="12" fill="#363a45" textLength="41" lengthAdjust="spacingAndGlyphs">2560.00</text>
<text x="1586.5" y="324.0" font-family="Liberation Sans, sans-serif" font-size="12" fill="#363a45" textLength="41" lengthAdjust="spacingAndGlyphs">2520.00</text>
<text x="1586.5" y="365.0" font-family="Liberation Sans, sans-serif" font-size="12" fill="#363a45" textLength="41" lengthAdjust="spacingAndGlyphs">2480.00</text>
<text x="1586.5" y="407.0" font-family="Liberation Sans, sans-serif" font-size="12" fill="#363a45" textLength="41" lengthAdjust="spacingAndGlyphs">2440.00</text>
<text x="1586.5" y="448.0" font-family="Liberation Sans, sans-serif" font-size="12" fill="#363a45" textLength="41" lengthAdjust="spacingAndGlyphs">2400.00</text>
<text x="1586.5" y="490.0" font-family="Liberation Sans, sans-serif" font-size="12" fill="#363a45" textLength="41" lengthAdjust="spacingAndGlyphs">2360.00</text>
<text x="1586.5" y="531.0" font-family="Liberation Sans, sans-serif" font-size="12" fill="#363a45" textLength="41" lengthAdjust="spacingAndGlyphs">2320.00</text>
<text x="1586.5" y="573.0" font-family="Liberation Sans, sans-serif" font-size="12" fill="#363a45" textLength="41" lengthAdjust="spacingAndGlyphs">2280.00</text>
<text x="1586" y="603.8" font-family="Liberation Sans, sans-serif" font-size="12" fill="#363a45" textLength="29.5" lengthAdjust="spacingAndGlyphs">80.00</text>
<text x="1586" y="651.6999999999999" font-family="Liberation Sans, sans-serif" font-size="12" fill="#363a45" textLength="29.5" lengthAdjust="spacingAndGlyphs">60.00</text>
<text x="1586" y="700.1999999999999" font-family="Liberation Sans, sans-serif" font-size="12" fill="#363a45" textLength="29.5" lengthAdjust="spacingAndGlyphs">40.00</text>
<path d="M1578,74.5 h54 a2,2 0 0 1 2,2 v12.5 a2,2 0 0 1 -2,2 h-54 z" fill="#1f2330"/>
<text x="1586" y="87.05" font-family="Liberation Sans, sans-serif" font-size="12" font-weight="bold" fill="#fff" textLength="42" lengthAdjust="spacingAndGlyphs">2748.66</text>
<path d="M1578,138 h54 a2,2 0 0 1 2,2 v13 a2,2 0 0 1 -2,2 h-54 z" fill="#2a8654"/>
<text x="1586" y="150.8" font-family="Liberation Sans, sans-serif" font-size="12" font-weight="bold" fill="#fff" textLength="42" lengthAdjust="spacingAndGlyphs">2686.93</text>
<path d="M1578,155 h54 a2,2 0 0 1 2,2 v13 a2,2 0 0 1 -2,2 h-54 z" fill="#f23645"/>
<text x="1586" y="167.8" font-family="Liberation Sans, sans-serif" font-size="12" font-weight="bold" fill="#fff" textLength="42" lengthAdjust="spacingAndGlyphs">2674.67</text>
<path d="M1578,172 h54 a2,2 0 0 1 2,2 v13 a2,2 0 0 1 -2,2 h-54 z" fill="#fbc02d"/>
<text x="1586" y="184.8" font-family="Liberation Sans, sans-serif" font-size="12" stroke="#000" stroke-width="0.35" fill="#000" textLength="42" lengthAdjust="spacingAndGlyphs">2663.64</text>
<path d="M1578,269.5 h54 a2,2 0 0 1 2,2 v12.5 a2,2 0 0 1 -2,2 h-54 z" fill="#4caf50"/>
<text x="1586" y="282.05" font-family="Liberation Sans, sans-serif" font-size="12" font-weight="bold" fill="#fff" textLength="42" lengthAdjust="spacingAndGlyphs">2560.54</text>
<path d="M1578,419.5 h54 a2,2 0 0 1 2,2 v12.5 a2,2 0 0 1 -2,2 h-54 z" fill="#2962ff"/>
<text x="1586" y="432.05" font-family="Liberation Sans, sans-serif" font-size="12" font-weight="bold" fill="#fff" textLength="42" lengthAdjust="spacingAndGlyphs">2416.77</text>
<path d="M1578,457 h54 a2,2 0 0 1 2,2 v13 a2,2 0 0 1 -2,2 h-54 z" fill="#2962ff"/>
<text x="1586" y="469.8" font-family="Liberation Sans, sans-serif" font-size="12" font-weight="bold" fill="#fff" textLength="42" lengthAdjust="spacingAndGlyphs">2380.20</text>
<path d="M1578,652.4 h41 a2,2 0 0 1 2,2 v12.5 a2,2 0 0 1 -2,2 h-41 z" fill="#7e57c2"/>
<text x="1586" y="664.9499999999999" font-family="Liberation Sans, sans-serif" font-size="12" font-weight="bold" fill="#fff" textLength="30" lengthAdjust="spacingAndGlyphs">54.84</text>
<text x="91.6" y="749.6" text-anchor="middle" font-family="Liberation Sans, sans-serif" font-size="12" stroke="#2a2e39" stroke-width="0.3" fill="#2a2e39">Jun</text>
<text x="179.6" y="749.6" text-anchor="middle" font-family="Liberation Sans, sans-serif" font-size="12"  fill="#2a2e39">13</text>
<text x="312.6" y="749.6" text-anchor="middle" font-family="Liberation Sans, sans-serif" font-size="12" stroke="#2a2e39" stroke-width="0.3" fill="#2a2e39">Jul</text>
<text x="400.6" y="749.6" text-anchor="middle" font-family="Liberation Sans, sans-serif" font-size="12"  fill="#2a2e39">11</text>
<text x="566.6" y="749.6" text-anchor="middle" font-family="Liberation Sans, sans-serif" font-size="12" stroke="#2a2e39" stroke-width="0.3" fill="#2a2e39">Aug</text>
<text x="654.6" y="749.6" text-anchor="middle" font-family="Liberation Sans, sans-serif" font-size="12"  fill="#2a2e39">13</text>
<text x="809.6" y="749.6" text-anchor="middle" font-family="Liberation Sans, sans-serif" font-size="12" stroke="#2a2e39" stroke-width="0.3" fill="#2a2e39">Sep</text>
<text x="897.6" y="749.6" text-anchor="middle" font-family="Liberation Sans, sans-serif" font-size="12"  fill="#2a2e39">12</text>
<text x="1041.6" y="749.6" text-anchor="middle" font-family="Liberation Sans, sans-serif" font-size="12" stroke="#2a2e39" stroke-width="0.3" fill="#2a2e39">Oct</text>
<text x="1129.6" y="749.6" text-anchor="middle" font-family="Liberation Sans, sans-serif" font-size="12"  fill="#2a2e39">11</text>
<text x="1294.6" y="749.6" text-anchor="middle" font-family="Liberation Sans, sans-serif" font-size="12" stroke="#2a2e39" stroke-width="0.3" fill="#2a2e39">Nov</text>
<text x="1383.6" y="749.6" text-anchor="middle" font-family="Liberation Sans, sans-serif" font-size="12"  fill="#2a2e39">13</text>
<text x="1471.6" y="749.6" text-anchor="middle" font-family="Liberation Sans, sans-serif" font-size="12"  fill="#2a2e39">23</text>
<text x="1559.6" y="749.6" text-anchor="middle" font-family="Liberation Sans, sans-serif" font-size="12" stroke="#2a2e39" stroke-width="0.3" fill="#2a2e39">Dec</text>
<circle cx="27.5" cy="702.8" r="16.2" fill="#fff" stroke="#e4e7ee" stroke-width="1"/>
<path d="M16.85,698.1 H26 V709 H21.9 V702 H16.85 Z M32.85,698.1 H38.2 L34,709 H29 Z" fill="#131722"/><circle cx="28.9" cy="700.0" r="1.95" fill="#131722"/>
<g fill="none" stroke="#2a2e39" stroke-width="1.4" stroke-linejoin="round"><path d="M1602.2,747 L1605.7,740.7 H1612.7 L1616.3,747 L1612.7,753.3 H1605.7 Z"/><circle cx="1609.2" cy="747" r="2.2"/></g>
</svg>
</body></html>
